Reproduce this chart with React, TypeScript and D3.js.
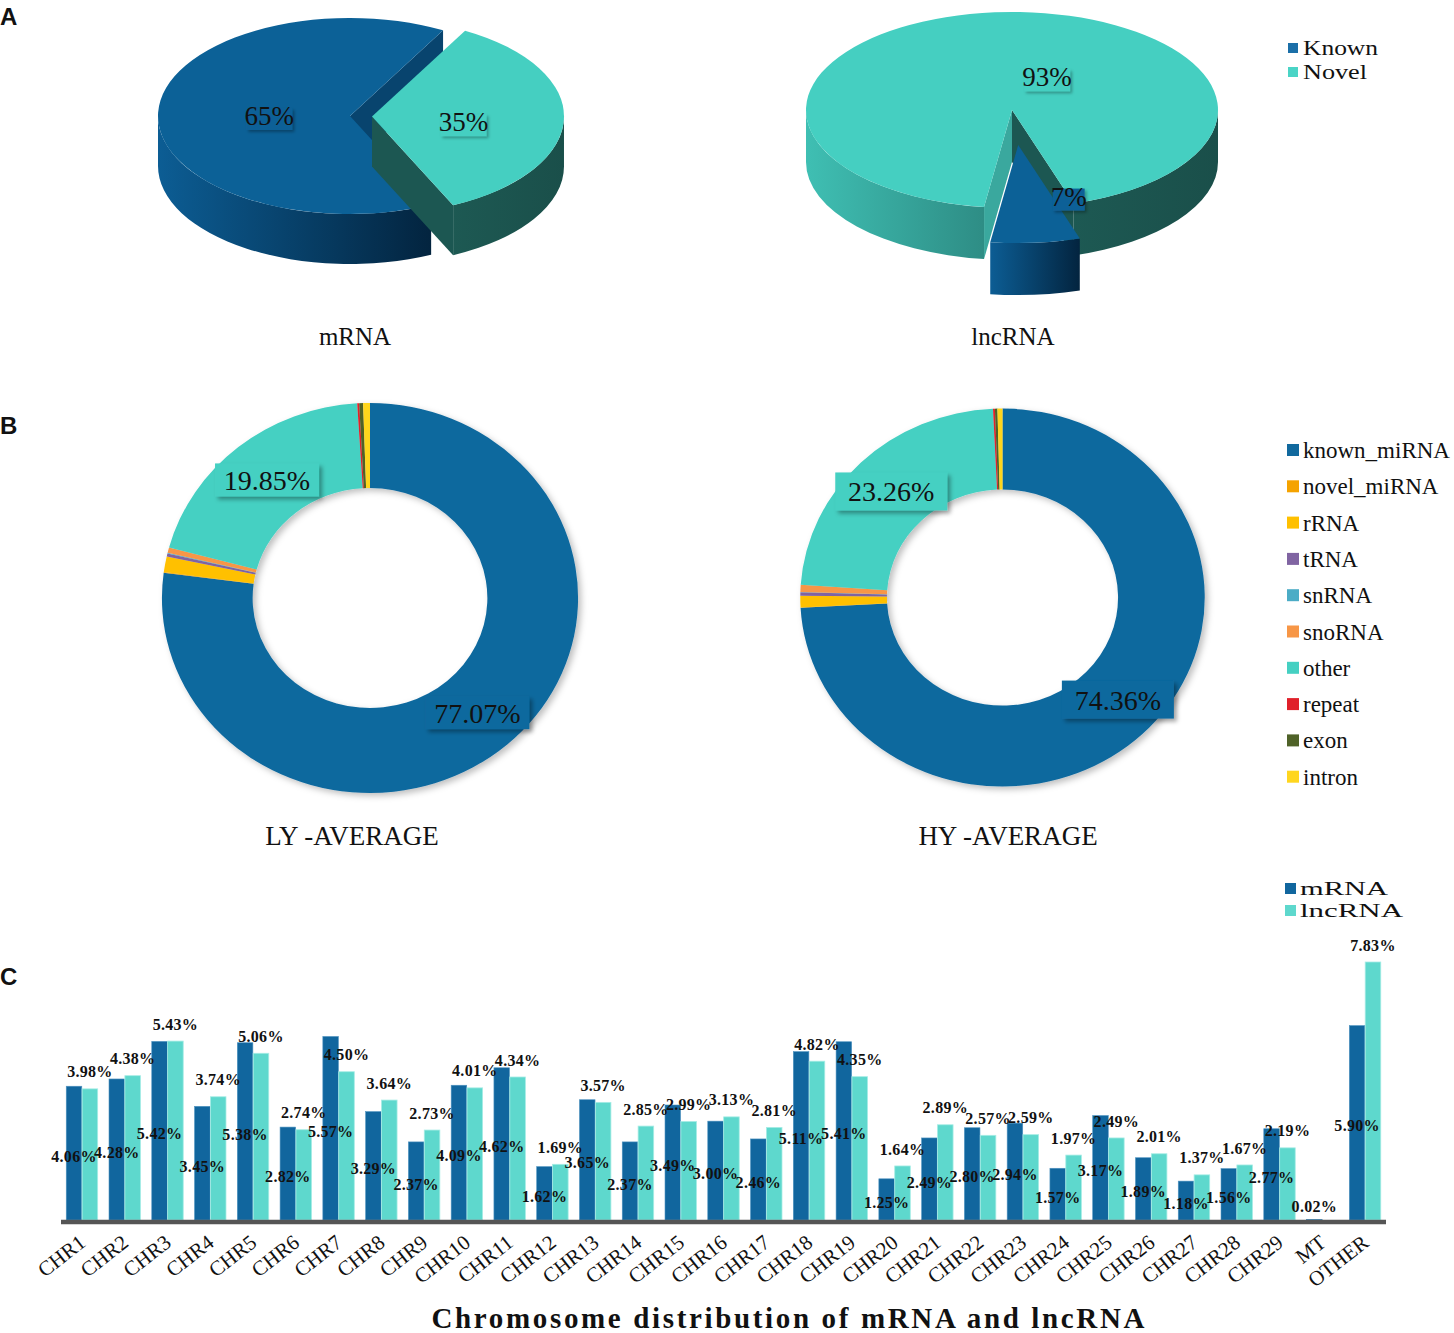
import React from "react";
import * as d3 from "d3";

// ---- panel A: known / novel share
const pieNames = ["Known", "Novel"];
const mrnaShare = [65, 35];
const lncShare = [7, 93];

// ---- panel B: small RNA annotation (%)
const rnaTypes = ["known_miRNA", "novel_miRNA", "rRNA", "tRNA", "snRNA", "snoRNA", "other", "repeat", "exon", "intron"];
const lyAverage = [77.07, 0.05, 1.3, 0.25, 0.05, 0.45, 19.85, 0.15, 0.3, 0.53];
const hyAverage = [74.36, 0.02, 1.0, 0.3, 0.02, 0.6, 23.26, 0.15, 0.2, 0.4];
const typeColors = ["#11699e", "#f5a300", "#ffc000", "#8064a2", "#4bacc6", "#f79646", "#45d0c2", "#e0202a", "#4f6228", "#ffd61f"];

// ---- panel C: chromosome distribution (%)
const chromosomes = [
  "CHR1", "CHR2", "CHR3", "CHR4", "CHR5", "CHR6", "CHR7", "CHR8", "CHR9", "CHR10",
  "CHR11", "CHR12", "CHR13", "CHR14", "CHR15", "CHR16", "CHR17", "CHR18", "CHR19", "CHR20",
  "CHR21", "CHR22", "CHR23", "CHR24", "CHR25", "CHR26", "CHR27", "CHR28", "CHR29", "MT", "OTHER",
];
const mrnaChr = [
  4.06, 4.28, 5.42, 3.45, 5.38, 2.82, 5.57, 3.29, 2.37, 4.09,
  4.62, 1.62, 3.65, 2.37, 3.49, 3.0, 2.46, 5.11, 5.41, 1.25,
  2.49, 2.8, 2.94, 1.57, 3.17, 1.89, 1.18, 1.56, 2.77, 0.02, 5.9,
];
const lncChr = [
  3.98, 4.38, 5.43, 3.74, 5.06, 2.74, 4.5, 3.64, 2.73, 4.01,
  4.34, 1.69, 3.57, 2.85, 2.99, 3.13, 2.81, 4.82, 4.35, 1.64,
  2.89, 2.57, 2.59, 1.97, 2.49, 2.01, 1.37, 1.67, 2.19, 0, 7.83,
];
const barSeries = ["mRNA", "lncRNA"];

const SERIF = "'Liberation Serif', 'Times New Roman', serif";
const SANS = "'Liberation Sans', Arial, sans-serif";
const KNOWN = "#0c6197";
const NOVEL = "#45cfc1";

const pct = (v: number) => v.toFixed(2) + "%";

type Pie3DProps = {
  values: number[];
  cx: number;
  cy: number;
  rx: number;
  ry: number;
  depth: number;
  start: number; // degrees, clockwise from 12 o'clock
  explodeIdx: number;
  explode: number;
  labelPolar: [number, number][];
  title: string;
  titleX: number;
};

function Pie3D({ values, cx, cy, rx, ry, depth, start, explodeIdx, explode, labelPolar, title, titleX }: Pie3DProps) {
  const rad = (start * Math.PI) / 180;
  const arcs = d3.pie<number>().sort(null).startAngle(rad).endAngle(rad + 2 * Math.PI)(values);
  const slices = arcs.map((a, i) => {
    const mid = (a.startAngle + a.endAngle) / 2;
    const e = i === explodeIdx ? explode : 0;
    return {
      i,
      a0: a.startAngle,
      a1: a.endAngle,
      ox: cx + e * Math.sin(mid),
      oy: cy - e * Math.cos(mid) * (ry / rx),
    };
  });
  // back slices first
  const order = [...slices].sort((p, q) => p.oy - q.oy || p.i - q.i);

  const pt = (x: number, y: number, a: number): [number, number] => [x + rx * Math.sin(a), y - ry * Math.cos(a)];

  return (
    <g>
      {order.map((s) => {
        const isKnown = s.i === 0;
        const [sx0, sy0] = pt(s.ox, s.oy, s.a0);
        const [sx1, sy1] = pt(s.ox, s.oy, s.a1);
        const large = s.a1 - s.a0 > Math.PI ? 1 : 0;
        const top = `M${s.ox},${s.oy}L${sx0},${sy0}A${rx},${ry} 0 ${large} 1 ${sx1},${sy1}Z`;

        // outer wall, only the front half of the rim is visible
        const walls: { d: string; fill: string }[] = [];
        for (let k = -1; k <= 2; k++) {
          const lo = Math.PI / 2 + 2 * Math.PI * k;
          const hi = (3 * Math.PI) / 2 + 2 * Math.PI * k;
          const b0 = Math.max(s.a0, lo);
          const b1 = Math.min(s.a1, hi);
          if (b1 - b0 > 1e-4) {
            const [x0, y0] = pt(s.ox, s.oy, b0);
            const [x1, y1] = pt(s.ox, s.oy, b1);
            const m = ((((b0 + b1) / 2) % (2 * Math.PI)) + 2 * Math.PI) % (2 * Math.PI);
            const fill = isKnown ? "url(#knownWall)" : m < Math.PI ? "url(#novelWallRight)" : "url(#novelWallLeft)";
            walls.push({
              d: `M${x0},${y0}A${rx},${ry} 0 0 1 ${x1},${y1}L${x1},${y1 + depth}A${rx},${ry} 0 0 0 ${x0},${y0 + depth}Z`,
              fill,
            });
          }
        }

        // radial cut faces that face the viewer
        const faces: { d: string; fill: string }[] = [];
        const face = (x: number, y: number) =>
          `M${s.ox},${s.oy}L${x},${y}L${x},${y + depth}L${s.ox},${s.oy + depth}Z`;
        if (Math.sin(s.a0) < -1e-6) faces.push({ d: face(sx0, sy0), fill: isKnown ? "#0a4f80" : "#3aa89e" });
        if (Math.sin(s.a1) > 1e-6) faces.push({ d: face(sx1, sy1), fill: isKnown ? "#08446e" : "#1c5752" });

        return (
          <g key={s.i}>
            {faces.map((f, j) => (
              <path key={"f" + j} d={f.d} fill={f.fill} />
            ))}
            {walls.map((w, j) => (
              <path key={"w" + j} d={w.d} fill={w.fill} />
            ))}
            <path d={top} fill={isKnown ? KNOWN : NOVEL} />
          </g>
        );
      })}
      {slices.map((s) => {
        const [ang, rf] = labelPolar[s.i];
        const a = (ang * Math.PI) / 180;
        const x = s.ox + rf * rx * Math.sin(a);
        const y = s.oy - rf * ry * Math.cos(a);
        const txt = values[s.i] + "%";
        const w = txt.length * 14 + 4;
        return (
          <g key={"l" + s.i}>
            <rect x={x - w / 2} y={y - 8} width={w} height={22} fill={s.i === 0 ? KNOWN : NOVEL} filter="url(#softShadow)" />
            <text x={x} y={y + 9} textAnchor="middle" fontFamily={SERIF} fontSize={27} fill="#111">
              {txt}
            </text>
          </g>
        );
      })}
      <text x={titleX} y={345} textAnchor="middle" fontFamily={SERIF} fontSize={25} fill="#111">
        {title}
      </text>
    </g>
  );
}

type DonutProps = {
  values: number[];
  cx: number;
  cy: number;
  r: number;
  r0: number;
  sx: number;
  title: string;
  titleX: number;
  boxW: number;
  boxH: number;
};

function Donut({ values, cx, cy, r, r0, sx, title, titleX, boxW, boxH }: DonutProps) {
  const arcs = d3.pie<number>().sort(null)(values);
  const arc = d3.arc<d3.PieArcDatum<number>>().innerRadius(r0).outerRadius(r);
  const labelled = [0, 6];
  return (
    <g>
      <g transform={`translate(${cx},${cy}) scale(${sx},1)`} filter="url(#donutShadow)">
        {arcs.map((a, i) => (
          <path key={i} d={arc(a) || ""} fill={typeColors[i]} />
        ))}
      </g>
      {labelled.map((i) => {
        const [x, y] = arc.centroid(arcs[i]);
        const px = cx + x * sx;
        const py = cy + y;
        return (
          <g key={i}>
            <rect x={px - boxW / 2} y={py - boxH / 2} width={boxW} height={boxH} fill={typeColors[i]} filter="url(#boxShadow)" />
            <text x={px} y={py + 10} textAnchor="middle" fontFamily={SERIF} fontSize={28} fill="#111">
              {pct(values[i])}
            </text>
          </g>
        );
      })}
      <text x={titleX} y={845} textAnchor="middle" fontFamily={SERIF} fontSize={27} fill="#111">
        {title}
      </text>
    </g>
  );
}

function ChromBars() {
  const base = 1220;
  const x = d3.scaleBand<string>().domain(chromosomes).range([61, 1386]).paddingInner(0.25).paddingOuter(0.115);
  const sub = d3.scaleBand<string>().domain(barSeries).range([0, x.bandwidth()]).padding(0.02);
  const y = d3.scaleLinear().domain([0, 8]).range([base, base - 8 * 32.95]);
  const bw = sub.bandwidth();
  return (
    <g>
      {chromosomes.map((c, i) => {
        const gx = x(c) as number;
        const mx = gx + (sub("mRNA") as number);
        const lx = gx + (sub("lncRNA") as number);
        const my = y(mrnaChr[i]);
        const ly = y(lncChr[i]);
        return (
          <g key={c}>
            <rect x={mx} y={my} width={bw} height={base - my} fill="#11669e" stroke="#4f93c0" strokeWidth={0.6} />
            {lncChr[i] > 0 && (
              <rect x={lx} y={ly} width={bw} height={base - ly} fill="#5ed8cd" stroke="#a6ece5" strokeWidth={0.8} />
            )}
          </g>
        );
      })}
      <line x1={61} x2={1386} y1={base + 2} y2={base + 2} stroke="#555" strokeWidth={4.5} />
      {chromosomes.map((c, i) => {
        const gx = x(c) as number;
        const mx = gx + (sub("mRNA") as number) + bw / 2;
        const lx = gx + (sub("lncRNA") as number) + bw / 2;
        const my = y(mrnaChr[i]);
        const ly = y(lncChr[i]);
        const mMid = Math.min((my + base) / 2 + 3, base - 14);
        return (
          <g key={"t" + c} fontFamily={SERIF} fill="#111">
            <g fontWeight="bold" fontSize={16} letterSpacing={0.3}>
              <text x={mx} y={mMid} dy="0.35em" textAnchor="middle">
                {pct(mrnaChr[i])}
              </text>
              {lncChr[i] > 0 && (
                <text x={lx} y={ly - 17} dy="0.35em" textAnchor="middle">
                  {pct(lncChr[i])}
                </text>
              )}
            </g>
            <text
              transform={`translate(${gx + x.bandwidth() / 2 + 5},${base + 25}) rotate(-38)`}
              textAnchor="end"
              fontSize={21}
            >
              {c}
            </text>
          </g>
        );
      })}
      <text
        x={788}
        y={1328}
        textAnchor="middle"
        fontFamily={SERIF}
        fontWeight="bold"
        fontSize={29}
        textLength={713}
        lengthAdjust="spacing"
        fill="#111"
      >
        Chromosome distribution of mRNA and lncRNA
      </text>
    </g>
  );
}

export default function App() {
  return (
    <svg
      width={1454}
      height={1333}
      viewBox="0 0 1454 1333"
      style={{ position: "absolute", left: 0, top: 0, background: "#fff" }}
    >
      <defs>
        <linearGradient id="knownWall" x1="0" x2="1" y1="0" y2="0">
          <stop offset="0" stopColor="#0c5d94" />
          <stop offset="1" stopColor="#03243f" />
        </linearGradient>
        <linearGradient id="novelWallLeft" x1="0" x2="1" y1="0" y2="0">
          <stop offset="0" stopColor="#3fbfb3" />
          <stop offset="1" stopColor="#2e8d85" />
        </linearGradient>
        <linearGradient id="novelWallRight" x1="0" x2="1" y1="0" y2="0">
          <stop offset="0" stopColor="#1d5953" />
          <stop offset="1" stopColor="#1a4f4a" />
        </linearGradient>
        <filter id="softShadow" x="-30%" y="-30%" width="160%" height="180%">
          <feDropShadow dx="2" dy="2" stdDeviation="1.5" floodColor="#000" floodOpacity="0.3" />
        </filter>
        <filter id="boxShadow" x="-20%" y="-30%" width="140%" height="170%">
          <feDropShadow dx="3" dy="3" stdDeviation="2" floodColor="#000" floodOpacity="0.35" />
        </filter>
        <filter id="donutShadow" x="-10%" y="-10%" width="125%" height="125%">
          <feDropShadow dx="3" dy="3" stdDeviation="3" floodColor="#000" floodOpacity="0.25" />
        </filter>
      </defs>

      {/* panel letters */}
      <g fontFamily={SANS} fontWeight="bold" fontSize={24} fill="#111">
        <text x={0} y={25}>A</text>
        <text x={0} y={434}>B</text>
        <text x={0} y={985}>C</text>
      </g>

      {/* A */}
      <Pie3D
        values={mrnaShare}
        cx={350}
        cy={116}
        rx={192}
        ry={98}
        depth={50}
        start={155}
        explodeIdx={1}
        explode={22}
        labelPolar={[
          [270, 0.42],
          [97, 0.48],
        ]}
        title="mRNA"
        titleX={355}
      />
      <Pie3D
        values={lncShare}
        cx={1012}
        cy={110}
        rx={206}
        ry={98}
        depth={52}
        start={162.6}
        explodeIdx={0}
        explode={74}
        labelPolar={[
          [155, 0.58],
          [27, 0.375],
        ]}
        title="lncRNA"
        titleX={1013}
      />
      <g fontFamily={SERIF} fontSize={21} fill="#111">
        {pieNames.map((n, i) => (
          <g key={n}>
            <rect x={1288} y={43 + i * 24} width={10} height={10} fill={i === 0 ? "#1b6fa8" : "#4ad4c6"} />
            <text x={1303} y={55 + i * 24} textLength={i === 0 ? 75 : 64} lengthAdjust="spacingAndGlyphs">
              {n}
            </text>
          </g>
        ))}
      </g>

      {/* B */}
      <Donut
        values={lyAverage}
        cx={370}
        cy={598}
        r={195}
        r0={110}
        sx={1.067}
        title="LY -AVERAGE"
        titleX={352}
        boxW={104}
        boxH={33}
      />
      <Donut
        values={hyAverage}
        cx={1002.5}
        cy={597.5}
        r={189}
        r0={108}
        sx={1.07}
        title="HY -AVERAGE"
        titleX={1008}
        boxW={112}
        boxH={38}
      />
      <g fontFamily={SERIF} fontSize={23} fill="#111">
        {rnaTypes.map((n, i) => (
          <g key={n}>
            <rect x={1287} y={444 + i * 36.3} width={12} height={12} fill={typeColors[i]} />
            <text x={1303} y={458 + i * 36.3}>{n}</text>
          </g>
        ))}
      </g>

      {/* C */}
      <ChromBars />
      <g fontFamily={SERIF} fontSize={19} fill="#111">
        {barSeries.map((n, i) => (
          <g key={n}>
            <rect x={1285} y={883 + i * 22} width={11} height={11} fill={i === 0 ? "#11669e" : "#5ed8cd"} />
            <text x={1300} y={895 + i * 22} textLength={i === 0 ? 88 : 103} lengthAdjust="spacingAndGlyphs">
              {n}
            </text>
          </g>
        ))}
      </g>
    </svg>
  );
}
